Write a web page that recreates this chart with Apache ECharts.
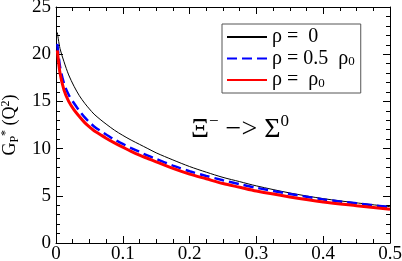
<!DOCTYPE html>
<html><head><meta charset="utf-8">
<script src="https://cdn.jsdelivr.net/npm/echarts@6/dist/echarts.min.js"></script>
<style>html,body{margin:0;padding:0;background:#fff}#c{width:402px;height:261px}</style>
</head><body><div id="c"></div>
<script>
var qValues   = [0.002, 0.006, 0.012, 0.019, 0.027, 0.035, 0.043, 0.05, 0.057, 0.066, 0.075, 0.0875, 0.1, 0.1125, 0.125, 0.1375, 0.15, 0.175, 0.2, 0.225, 0.25, 0.275, 0.3, 0.35, 0.4, 0.45, 0.5];
var gRho0     = [22.3, 20.6, 19.2, 17.8, 16.6, 15.6, 14.8, 14.2, 13.65, 13.1, 12.6, 11.95, 11.4, 10.9, 10.45, 10.0, 9.55, 8.8, 8.1, 7.5, 6.95, 6.5, 6.05, 5.3, 4.7, 4.25, 3.85];
var gRhoHalf  = [21.1, 18.7, 16.9, 15.7, 14.8, 14.0, 13.3, 12.8, 12.35, 11.9, 11.5, 10.95, 10.5, 10.05, 9.65, 9.25, 8.9, 8.2, 7.6, 7.1, 6.65, 6.23, 5.85, 5.2, 4.62, 4.2, 3.8];
var gRhoFull  = [20.4, 18.0, 16.2, 15.0, 14.1, 13.4, 12.75, 12.3, 11.9, 11.5, 11.1, 10.6, 10.15, 9.7, 9.3, 8.95, 8.6, 7.9, 7.3, 6.8, 6.3, 5.9, 5.5, 4.88, 4.35, 3.95, 3.57];
var seriesNames = ['ρ = 0', 'ρ = 0.5 ρ0', 'ρ = ρ0'];
var xTicks = {min: 0, max: 0.5, interval: 0.1};
var yTicks = {min: 0, max: 25, interval: 5};

function pairs(ys){ return qValues.map(function(q,i){ return [q, ys[i]]; }); }
var serif = "'Liberation Serif', 'Times New Roman', serif";
var chart = echarts.init(document.getElementById('c'));
function axisCommon(show){
  return {
    axisLine:{show:true, onZero:false, lineStyle:{color:'#000', width:1}},
    axisTick:{show:true, inside:true, length:7, lineStyle:{color:'#000'}},
    minorTick:{show:true, length:4, lineStyle:{color:'#000'}},
    splitLine:{show:false},
    axisLabel:{show:show, color:'#000', fontFamily:serif, fontSize:19}
  };
}
var xa = Object.assign({type:'value', min:xTicks.min, max:xTicks.max, interval:xTicks.interval, position:'bottom'}, axisCommon(true));
xa.minorTick.splitNumber = 4; xa.axisLabel.margin = 2;
var xb = Object.assign({type:'value', min:xTicks.min, max:xTicks.max, interval:xTicks.interval, position:'top'}, axisCommon(false));
xb.minorTick.splitNumber = 4;
var ya = Object.assign({type:'value', min:yTicks.min, max:yTicks.max, interval:yTicks.interval, position:'left',
  name:'{a|G}{sub|P}{sup|*}{a| (Q}{sup|2}{a|)}', nameLocation:'middle', nameGap:28, nameRotate:90,
  nameTextStyle:{color:'#000', fontFamily:serif, fontSize:18, rich:{
    a:{fontFamily:serif, fontSize:18, color:'#000'},
    sub:{fontFamily:serif, fontSize:12, color:'#000', padding:[9,0,0,0]},
    sup:{fontFamily:serif, fontSize:12, color:'#000', padding:[0,0,9,0]}
  }}}, axisCommon(true));
ya.minorTick.splitNumber = 5; ya.axisLabel.margin = 5;
var yb = Object.assign({type:'value', min:yTicks.min, max:yTicks.max, interval:yTicks.interval, position:'right'}, axisCommon(false));
yb.minorTick.splitNumber = 5;

function legendFmt(name){
  if(name === seriesNames[0]) return '{a|ρ =  0}';
  if(name === seriesNames[1]) return '{a|ρ = 0.5  ρ}{s|0}';
  return '{a|ρ =  ρ}{s|0}';
}
chart.setOption({
  animation:false,
  textStyle:{fontFamily:serif, fontSize:18, color:'#000'},
  grid:{left:56, right:12, top:7, bottom:18, outerBoundsMode:'none', containLabel:false},
  xAxis:[xa, xb],
  yAxis:[ya, yb],
  legend:{
    orient:'vertical', left:222, top:24, data:seriesNames,
    backgroundColor:'#fff', borderColor:'#555', borderWidth:1, borderRadius:0,
    padding:[3,6,3,4], itemWidth:40, itemHeight:12, itemGap:1.5,
    itemStyle:{opacity:0},
    formatter:legendFmt,
    textStyle:{color:'#000', fontFamily:serif, fontSize:20, lineHeight:20, rich:{
      a:{fontFamily:serif, fontSize:20, lineHeight:20, color:'#000'},
      s:{fontFamily:serif, fontSize:13, lineHeight:13, color:'#000', padding:[7,0,0,0]}
    }}
  },
  graphic:[{
    type:'text', left:191, top:113,
    style:{
      text:'{b|Ξ}{sup|−}{b| −> Σ}{sup|0}',
      rich:{
        b:{fontFamily:serif, fontSize:28, fill:'#000'},
        sup:{fontFamily:serif, fontSize:17, fill:'#000', padding:[0,0,16,0]}
      }
    }
  }],
  series:[
    {name:seriesNames[0], type:'line', data:pairs(gRho0), smooth:0.3, showSymbol:false, symbol:'none',
     lineStyle:{color:'#000', width:1}, itemStyle:{color:'#000'}},
    {name:seriesNames[1], type:'line', data:pairs(gRhoHalf), smooth:0.3, showSymbol:false, symbol:'none',
     lineStyle:{color:'#0000ff', width:2.5, type:[10,5]}, itemStyle:{color:'#0000ff'}},
    {name:seriesNames[2], type:'line', data:pairs(gRhoFull), smooth:0.3, showSymbol:false, symbol:'none',
     lineStyle:{color:'#ff0000', width:3}, itemStyle:{color:'#ff0000'}}
  ]
});
</script></body></html>
